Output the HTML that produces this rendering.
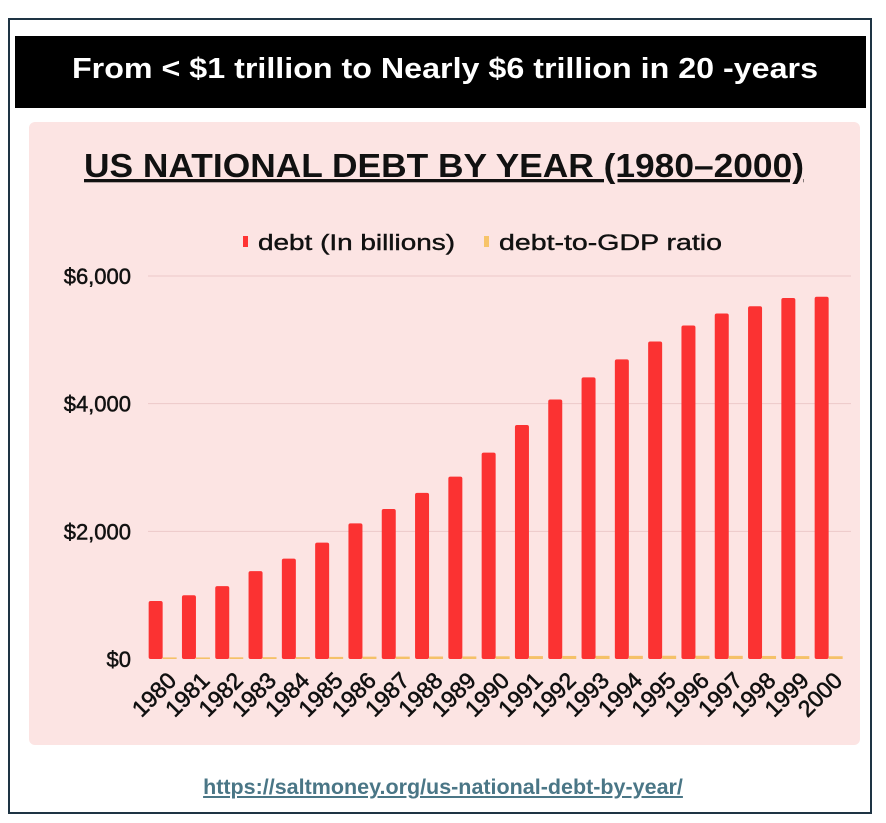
<!DOCTYPE html>
<html><head><meta charset="utf-8"><style>
body{margin:0;width:886px;height:823px;background:#fff;position:relative;overflow:hidden;font-family:"Liberation Sans",sans-serif}
#frame{position:absolute;left:8px;top:18px;width:864px;height:796px;border:2px solid #1e3444;box-sizing:border-box}
#banner{position:absolute;left:15px;top:36px;width:851px;height:72px;background:#000}
#url{position:absolute;left:0;width:886px;top:775px;text-align:center;font-weight:bold;font-size:21.5px;color:#4a7686;text-decoration:underline}
</style></head><body>
<div id="frame"></div>
<div id="banner"></div>
<svg id="chart" width="886" height="823" style="position:absolute;left:0;top:0" font-family="Liberation Sans, sans-serif">
<text x="445" y="78" text-anchor="middle" font-size="29" font-weight="bold" fill="#fff" textLength="746" lengthAdjust="spacingAndGlyphs">From &lt; $1 trillion to Nearly $6 trillion in 20 -years</text>
<rect x="29" y="122" width="831" height="623" rx="6" fill="#fce4e3"/>
<text x="444" y="177" text-anchor="middle" font-size="33" font-weight="bold" fill="#111" text-decoration="underline" textLength="720" lengthAdjust="spacingAndGlyphs">US NATIONAL DEBT BY YEAR (1980–2000)</text>
<rect x="243" y="236" width="5" height="11" fill="#f33"/>
<text x="258" y="250" font-size="22" fill="#111" textLength="197" lengthAdjust="spacingAndGlyphs" stroke="#111" stroke-width="0.4">debt (In billions)</text>
<rect x="484" y="236" width="5" height="11" fill="#f7c46a"/>
<text x="499" y="250" font-size="22" fill="#111" textLength="223" lengthAdjust="spacingAndGlyphs" stroke="#111" stroke-width="0.4">debt-to-GDP ratio</text>
<g id="grid"></g><g id="bars"></g><g id="labels"></g>
</svg>
<div id="url">https://saltmoney.org/us-national-debt-by-year/</div>
<script>
const years=["1980","1981","1982","1983","1984","1985","1986","1987","1988","1989","1990","1991","1992","1993","1994","1995","1996","1997","1998","1999","2000"];
const debt=[908,998,1142,1377,1572,1823,2125,2350,2602,2857,3233,3665,4065,4411,4693,4974,5225,5413,5526,5656,5674];
const ratio=[32,31,34,37,39,42,47,48,50,51,54,58,61,63,63,65,65,63,61,58,55];
const yTicks=[0,2000,4000,6000];
const yTickLabels=["$0","$2,000","$4,000","$6,000"];
const NS="http://www.w3.org/2000/svg";
const x0=146,bw=33.3,yBase=659,yTop=276;
const y=v=>yBase-(v/6000)*(yBase-yTop);
const cx=i=>x0+bw*(i+0.5);
function mk(t,a,p){const e=document.createElementNS(NS,t);for(const k in a)e.setAttribute(k,a[k]);document.getElementById(p).appendChild(e);return e;}
yTicks.forEach((v,i)=>{
 if(v>0){const l=mk('line',{x1:148,x2:851,y1:y(v),y2:y(v),stroke:'#ecc9c8','stroke-width':1},'grid');
 
 }
 const t=mk('text',{x:131,y:y(v)+8,'text-anchor':'end','font-size':22,fill:'#111',stroke:'#111','stroke-width':0.5},'grid');
 t.textContent=yTickLabels[i];
 
 
});
years.forEach((yr,i)=>{
 const c=cx(i);
 const r=mk('rect',{x:c-14,y:y(debt[i]),width:14,height:yBase-y(debt[i]),rx:2,fill:'#fb3232'},'bars');
 
 
 const rh=ratio[i]/20;
 const o=mk('rect',{x:c,y:yBase-rh,width:14,height:rh,fill:'#f5c168'},'bars');
 
 
 const t=mk('text',{x:c+15,y:682,'text-anchor':'end','font-size':23,fill:'#111',stroke:'#111','stroke-width':0.6,transform:`rotate(-45 ${c+15} 682)`},'labels');
 t.textContent=yr;
 
 
});
</script>
</body></html>
